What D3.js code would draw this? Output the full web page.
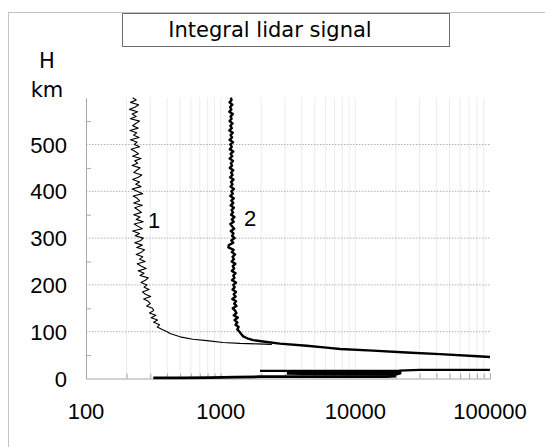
<!DOCTYPE html>
<html>
<head>
<meta charset="utf-8">
<script src="https://cdn.jsdelivr.net/npm/d3@7"></script>
<style>
  body { margin: 0; background: #fff; }
  text { fill: #000; }
</style>
</head>
<body>
<div id="container"></div>
<script>
/* CONSTANTS AND GLOBALS */
const width = 545,
  height = 447;

/* DATA */
// sampling heights (km) for the noisy upper parts
const heights = d3.range(100, 601, 5);

// curve 1 signal at each height
const signal1 = [
  400, 365, 338, 352, 318, 340, 305, 330, 296, 318,
  312, 282, 300, 290, 268, 302, 276, 262, 294, 270,
  284, 256, 276, 290, 252, 270, 244, 280, 258, 240,
  275, 250, 264, 236, 258, 272, 238, 262, 230, 256,
  266, 232, 250, 222, 262, 244, 228, 266, 236, 252,
  226, 258, 244, 230, 262, 226, 250, 240, 224, 264,
  240, 220, 256, 234, 250, 222, 244, 260, 226, 238,
  252, 220, 242, 230, 256, 222, 246, 232, 216, 250,
  228, 240, 214, 248, 226, 238, 212, 244, 222, 234,
  250, 214, 236, 220, 242, 210, 232, 246, 214, 236,
  222
];

// curve 2 signal at each height
const signal2 = [
  1380, 1330, 1360, 1290, 1330, 1270, 1340, 1250, 1310, 1280,
  1230, 1310, 1260, 1300, 1220, 1290, 1250, 1300, 1225, 1270,
  1240, 1300, 1215, 1265, 1240, 1290, 1210, 1260, 1230, 1285,
  1205, 1255, 1225, 1280, 1210, 1250, 1140, 1150, 1240, 1200,
  1270, 1215, 1245, 1190, 1260, 1220, 1180, 1250, 1210, 1265,
  1195, 1235, 1205, 1255, 1185, 1240, 1200, 1250, 1180, 1230,
  1200, 1255, 1185, 1225, 1195, 1245, 1175, 1225, 1195, 1240,
  1170, 1215, 1190, 1235, 1165, 1220, 1185, 1240, 1170, 1210,
  1180, 1235, 1165, 1215, 1185, 1230, 1160, 1210, 1180, 1225,
  1165, 1205, 1185, 1230, 1160, 1200, 1175, 1220, 1165, 1205,
  1190
];

// [signal, height] below 100 km
const drop1 = [[400, 100], [421, 96], [499, 89], [622, 84], [791, 81], [1040, 77], [1390, 75], [1860, 74], [2400, 73]];
const drop2 = [[1380, 100], [1420, 95], [1470, 90], [1600, 85], [1740, 82], [2200, 78], [2750, 74.5], [4350, 70],
  [6100, 66], [7700, 63], [13500, 59.5], [24000, 55.5], [42500, 52], [75000, 48], [100000, 46]];

// near-ground returns
const ground1 = [[316, 1.5], [520, 1.5], [830, 1.8], [1300, 3], [1960, 3.8], [5000, 3.8], [10000, 4], [17000, 4], [20000, 5]];
const ground2 = [[1960, 16.5], [5000, 16.5], [21000, 17], [30000, 18.5], [100000, 18.5]];
const bandSignal = [3100, 5000, 10000, 15000, 20000, 22000];
const bandTop = [17.5, 17.5, 17.5, 17.5, 17.5, 17.5];
const bandBottom = [8, 7, 6.5, 6, 6, 9];

// axes
const yTicks = [0, 100, 200, 300, 400, 500];
const yMinor = [50, 150, 250, 350, 450, 550];
const xTicks = [100, 1000, 10000, 100000];

let xScale, yScale, svg;

init();

function init() {
  svg = d3.select("#container")
    .append("svg")
    .attr("width", width)
    .attr("height", height);

  xScale = d3.scaleLog()
    .domain([100, 100000])
    .range([86, 490]);

  yScale = d3.scaleLinear()
    .domain([0, 600])
    .range([378.5, 97.7]);

  draw();
}

function draw() {
  // outer frame
  svg.append("rect")
    .attr("x", 8.5).attr("y", 12.5)
    .attr("width", 600).attr("height", 500)
    .attr("fill", "none")
    .attr("stroke", "#c4c4c4");

  // title box
  svg.append("rect")
    .attr("x", 122.5).attr("y", 13.5)
    .attr("width", 327).attr("height", 33)
    .attr("fill", "#fff")
    .attr("stroke", "#6e6e6e");
  svg.append("text")
    .attr("x", 270).attr("y", 37)
    .attr("text-anchor", "middle")
    .style("font-family", "DejaVu Sans")
    .style("font-size", "21px")
    .text("Integral lidar signal");

  svg.append("text")
    .attr("x", 47).attr("y", 68)
    .attr("text-anchor", "middle")
    .style("font-family", "DejaVu Sans")
    .style("font-size", "21px")
    .text("H");
  svg.append("text")
    .attr("x", 47).attr("y", 97)
    .attr("text-anchor", "middle")
    .style("font-family", "DejaVu Sans")
    .style("font-size", "21px")
    .text("km");

  // vertical light grid at log positions
  const logTicks = xScale.ticks().filter(d => d > 100 && d < 100000);
  svg.append("g")
    .selectAll("line")
    .data(logTicks)
    .join("line")
    .attr("x1", d => xScale(d)).attr("x2", d => xScale(d))
    .attr("y1", yScale(600)).attr("y2", yScale(0))
    .attr("stroke", "#ececec")
    .attr("stroke-width", 1);

  // horizontal dotted grid
  svg.append("g")
    .selectAll("line")
    .data(yTicks.filter(d => d > 0))
    .join("line")
    .attr("x1", xScale(100)).attr("x2", xScale(100000))
    .attr("y1", d => yScale(d)).attr("y2", d => yScale(d))
    .attr("stroke", "#b0b0b0")
    .attr("stroke-dasharray", "1.5,1.5");

  // axes
  const xAxis = d3.axisBottom(xScale)
    .tickValues(logTicks.concat([100000]))
    .tickSize(-5)
    .tickFormat("");
  svg.append("g")
    .attr("transform", `translate(0, ${yScale(0)})`)
    .call(xAxis)
    .call(g => g.selectAll("path, line").attr("stroke", "#a8a8a8"));

  const yAxis = d3.axisLeft(yScale)
    .tickValues(yMinor)
    .tickSize(-5)
    .tickSizeOuter(0)
    .tickFormat("");
  svg.append("g")
    .attr("transform", `translate(${xScale(100)}, 0)`)
    .call(yAxis)
    .call(g => g.selectAll("path, line").attr("stroke", "#a8a8a8"));

  svg.selectAll(".ylabel")
    .data(yTicks)
    .join("text")
    .attr("class", "ylabel")
    .attr("x", 67)
    .attr("y", d => yScale(d) + 8)
    .attr("text-anchor", "end")
    .style("font-family", "Liberation Sans")
    .style("font-size", "22px")
    .text(d => d);

  svg.selectAll(".xlabel")
    .data(xTicks)
    .join("text")
    .attr("class", "xlabel")
    .attr("x", d => xScale(d))
    .attr("y", 419)
    .attr("text-anchor", "middle")
    .style("font-family", "Liberation Sans")
    .style("font-size", "22px")
    .text(d => d);

  // curves
  const line = d3.line()
    .x(d => xScale(d[0]))
    .y(d => yScale(d[1]));

  const upper1 = heights.map((h, i) => [signal1[i], h]);
  const upper2 = heights.map((h, i) => [signal2[i], h]);

  svg.append("path")
    .datum(upper1.slice().reverse().concat(drop1.slice(1)))
    .attr("d", line)
    .attr("fill", "none")
    .attr("stroke", "#000")
    .attr("stroke-width", 1.1)
    .attr("stroke-linejoin", "round");

  svg.append("path")
    .datum(upper2.slice().reverse().concat(drop2.slice(1)))
    .attr("d", line)
    .attr("fill", "none")
    .attr("stroke", "#000")
    .attr("stroke-width", 2.4)
    .attr("stroke-linejoin", "round");

  // near-ground band
  const area = d3.area()
    .x((d, i) => xScale(bandSignal[i]))
    .y0((d, i) => yScale(bandBottom[i]))
    .y1((d, i) => yScale(bandTop[i]));
  svg.append("path")
    .datum(bandSignal)
    .attr("d", area)
    .attr("fill", "#000");

  [ground1, ground2].forEach((g, i) => {
    svg.append("path")
      .datum(g)
      .attr("d", line)
      .attr("fill", "none")
      .attr("stroke", "#000")
      .attr("stroke-width", i === 0 ? 2.8 : 2.2);
  });

  // curve labels
  svg.append("text")
    .attr("x", 154).attr("y", 228)
    .attr("text-anchor", "middle")
    .style("font-family", "Liberation Sans")
    .style("font-size", "22px")
    .text("1");
  svg.append("text")
    .attr("x", 250).attr("y", 226)
    .attr("text-anchor", "middle")
    .style("font-family", "Liberation Sans")
    .style("font-size", "22px")
    .text("2");
}
</script>
</body>
</html>
